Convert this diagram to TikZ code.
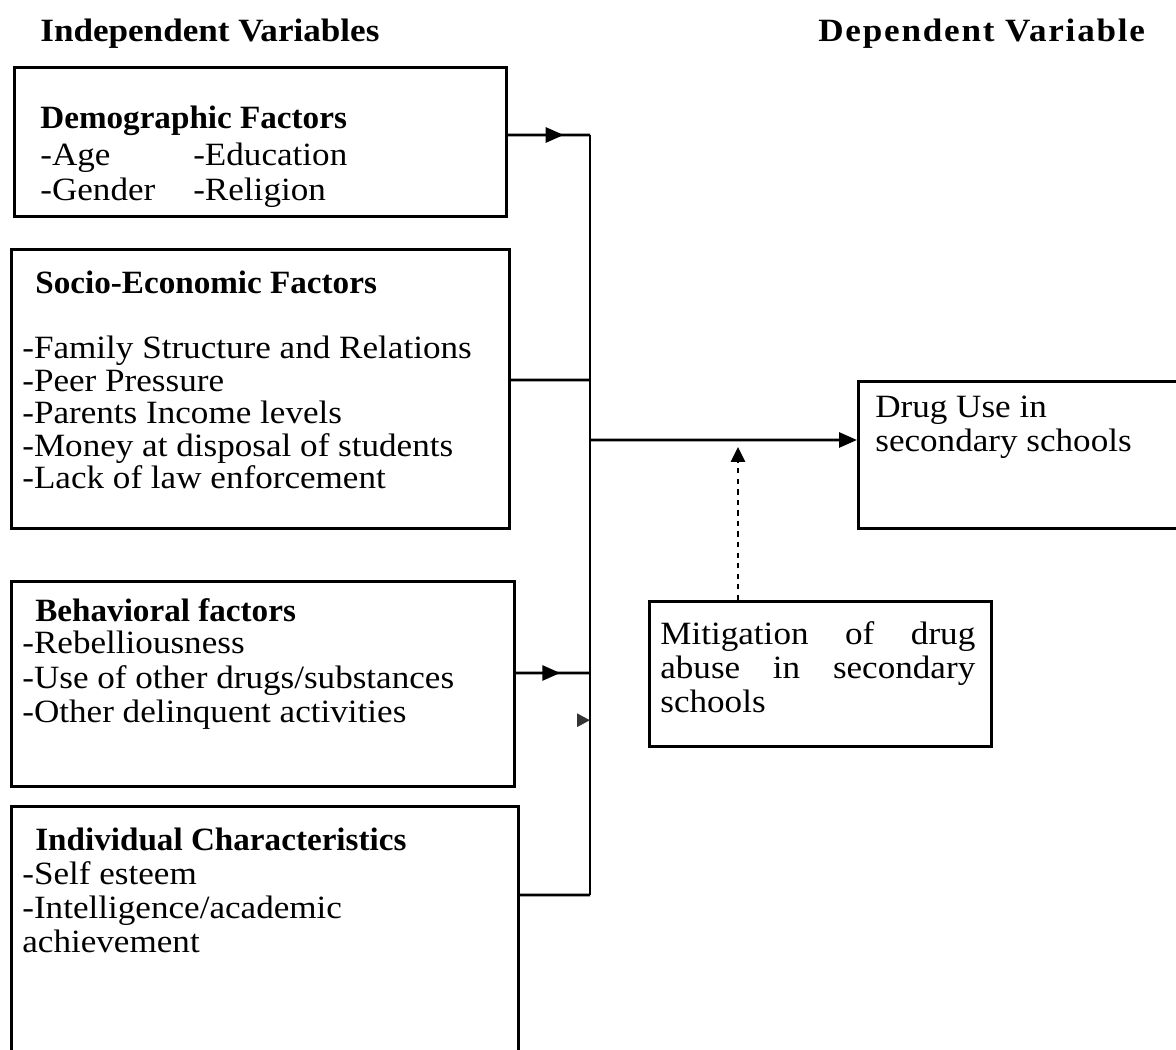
\documentclass[tikz,border=0pt]{standalone}
\usepackage{fontspec}
\setmainfont{Liberation Serif}[FakeStretch=1.08]
\newfontfamily\titlefont{Liberation Serif}[FakeStretch=1.02]
\usetikzlibrary{arrows.meta,decorations.markings,positioning}
\tikzstyle{factor} = [rectangle, draw, line width=1.6pt, anchor=north west, inner sep=0pt]
\tikzstyle{txt} = [anchor=north west, inner sep=0pt, align=left,
    font=\fontsize{18.5}{19}\selectfont]
\tikzstyle{heading} = [anchor=north west, inner sep=0pt,
    font=\fontsize{18.5}{19}\selectfont\bfseries]
\tikzstyle{line} = [draw, line width=1.6pt]
\tikzset{midarrow/.style={postaction={decorate}, decoration={markings,
    mark=at position #1 with {\arrow{Triangle[length=0.36cm,width=0.3cm]}}}}}
\newcommand{\boxtitle}[1]{{\titlefont\bfseries #1}}

\begin{document}
\begin{tikzpicture}[x=0.02cm,y=-0.02cm]
    \useasboundingbox (0,0) rectangle (1176,1050);
    % Headings
    \node[heading] (indhead) at (40,19) {Independent Variables};
    \node[heading] (dephead) at (818,19) {\addfontfeature{LetterSpace=5.5}Dependent Variable};
    % Place boxes
    \node[factor, minimum width=9.84cm, minimum height=2.98cm] (demo) at (13,66) {};
    \node[factor, minimum width=9.96cm, minimum height=5.58cm] (socio) at (10,248) {};
    \node[factor, minimum width=10.06cm, minimum height=4.1cm] (behav) at (10,580) {};
    \node[factor, minimum width=10.14cm, minimum height=4.9cm] (indiv) at (10,805) {};
    \node[factor, minimum width=6.8cm, minimum height=2.94cm] (drug) at (857,380) {};
    \node[factor, minimum width=6.84cm, minimum height=2.9cm] (mitig) at (648,600) {};
    % Box texts
    \node[txt] (demotxt) at (40,106) {\boxtitle{Demographic Factors}\\[2pt]
        \makebox[3.06cm][l]{-Age}-Education\\[0.5pt]
        \makebox[3.06cm][l]{-Gender}-Religion};
    \node[txt] (sociohead) at (35,271) {\boxtitle{Socio-Economic Factors}};
    \node[txt] (sociotxt) at (22,336) {-Family Structure and Relations\\[-0.5pt]
        -Peer Pressure\\[-0.5pt] -Parents Income levels\\[-0.5pt]
        -Money at disposal of students\\[-0.5pt] -Lack of law enforcement};
    \node[txt] (behavhead) at (35,598) {\boxtitle{Behavioral factors}};
    \node[txt] (behavlist) at (22,631) {-Rebelliousness\\[0.5pt]
        -Use of other drugs/substances\\[0.5pt] -Other delinquent activities};
    \node[txt] (indivhead) at (35,828) {\boxtitle{Individual Characteristics}};
    \node[txt] (indivlist) at (22,861) {-Self esteem\\[0.5pt]
        -Intelligence/academic\\[0.5pt] achievement};
    \node[txt] (drugtxt) at (875,396) {Drug Use in\\ secondary schools};
    \node[txt] (mitigtxt) at (660,621) {\makebox[6.3cm][s]{Mitigation of drug}\\[0.5pt]
        \makebox[6.3cm][s]{abuse in secondary}\\[0.5pt] schools};
    % Draw edges
    \coordinate (bustop) at (590,135);
    \coordinate (bussocio) at (590,380);
    \coordinate (busout) at (590,440);
    \coordinate (busbehav) at (590,673);
    \coordinate (busbot) at (590,895);
    \path[line, midarrow=0.68] ([yshift=-1.38cm]demo.north east) -- (bustop);
    \path[line] ([yshift=-2.64cm]socio.north east) -- (bussocio);
    \path[line, midarrow=0.6] ([yshift=-1.86cm]behav.north east) -- (busbehav);
    \path[line] ([yshift=-1.8cm]indiv.north east) -- (busbot);
    \path[line, postaction={decorate}, decoration={markings, mark=at position 0.77 with
        {\arrow[black!80, rotate=90]{Triangle[length=0.26cm,width=0.26cm]}}}] (bustop) -- (busbot);
    \path[line, -{Triangle[length=0.36cm,width=0.3cm]}] (busout) -- ([yshift=-1.2cm]drug.north west);
    \path[line, dashed, -{Triangle[length=0.3cm,width=0.28cm]}]
        ([xshift=1.8cm]mitig.north west) -- ([xshift=1.8cm,yshift=-0.14cm]mitig.north west |- busout);
\end{tikzpicture}
\end{document}
